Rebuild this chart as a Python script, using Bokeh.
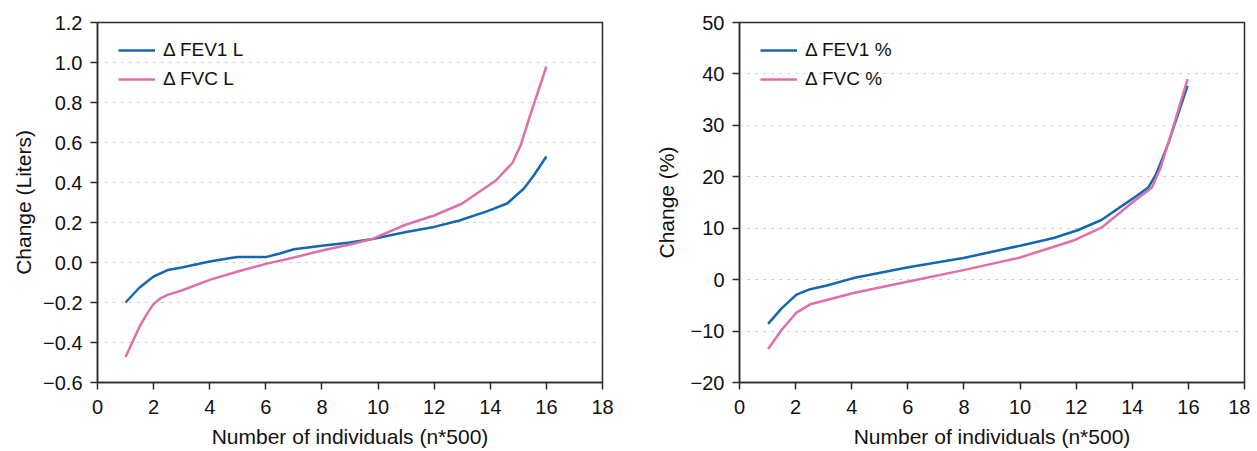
from bokeh.plotting import figure
from bokeh.layouts import row
from bokeh.models import FixedTicker, CustomJSTickFormatter, Range1d, Legend, LegendItem
from bokeh.embed import file_html
from bokeh.resources import INLINE

# ---- data ----
x_l_fev1 = [1, 1.5, 2, 2.5, 3, 4, 4.8, 5, 6, 6.5, 7, 8, 9, 9.8, 11, 12, 12.9, 13.9, 14.6, 15.2, 15.55, 16]
fev1_l   = [-0.20, -0.125, -0.07, -0.038, -0.025, 0.005, 0.024, 0.027, 0.027, 0.045, 0.066, 0.084, 0.10, 0.118, 0.152, 0.178, 0.21, 0.257, 0.295, 0.37, 0.435, 0.53]

x_l_fvc = [1, 1.5, 1.76, 2.0, 2.26, 2.5, 3, 4, 5, 6, 7, 8, 9, 9.8, 11, 12, 13, 14.2, 14.8, 15.1, 15.4, 16]
fvc_l   = [-0.473, -0.32, -0.257, -0.207, -0.178, -0.162, -0.14, -0.087, -0.045, -0.007, 0.025, 0.06, 0.09, 0.118, 0.19, 0.235, 0.295, 0.41, 0.50, 0.593, 0.727, 0.98]

x_r = [1.02, 1.5, 2.03, 2.52, 3.08, 4.06, 6.02, 7.98, 10.0, 11.2, 12.05, 12.9, 14.0, 14.57, 14.85, 15.27, 15.97]
fev1_pct = [-8.6, -5.6, -2.9, -1.85, -1.2, 0.3, 2.4, 4.2, 6.6, 8.1, 9.6, 11.6, 15.7, 17.9, 20.5, 26.3, 37.7]

x_r2 = [1.02, 1.5, 2.03, 2.52, 3.08, 4.06, 6.02, 7.98, 10.0, 11.9, 12.9, 14.0, 14.7, 14.99, 15.4, 15.97]
fvc_pct = [-13.5, -9.8, -6.4, -4.8, -4.0, -2.6, -0.35, 1.85, 4.3, 7.6, 10.1, 15.0, 17.9, 21.5, 28.6, 39.0]

x_ticks = [0, 2, 4, 6, 8, 10, 12, 14, 16, 18]
y_ticks_l = [-0.6, -0.4, -0.2, 0.0, 0.2, 0.4, 0.6, 0.8, 1.0, 1.2]
y_ticks_r = [-20, -10, 0, 10, 20, 30, 40, 50]

labels_l = ["\u0394 FEV1 L", "\u0394 FVC L"]
labels_r = ["\u0394 FEV1 %", "\u0394 FVC %"]
x_title = "Number of individuals (n*500)"
y_title_l = "Change (Liters)"
y_title_r = "Change (%)"

BLUE = "#1467b0"
PINK = "#df6fa9"
DARK = "#2b2b2b"
FONT = "Liberation Sans"


def make(xs1, ys1, xs2, ys2, yticks, ytitle, labels, decimals, width, left_border, title_standoff):
    p = figure(width=width, height=442, output_backend="svg", toolbar_location=None,
               x_range=Range1d(0, 18), y_range=Range1d(yticks[0], yticks[-1]),
               min_border_left=left_border, min_border_right=width - left_border - 505,
               min_border_top=22, min_border_bottom=5)
    p.frame_width = 505
    p.frame_height = 360
    p.background_fill_color = "white"
    p.border_fill_color = "white"
    p.outline_line_color = DARK
    p.outline_line_width = 1.5
    p.outline_line_alpha = 1

    l1 = p.line(xs1, ys1, line_color=BLUE, line_width=2.5)
    l2 = p.line(xs2, ys2, line_color=PINK, line_width=2.5)

    p.xaxis.ticker = FixedTicker(ticks=x_ticks)
    p.yaxis.ticker = FixedTicker(ticks=yticks)
    p.yaxis.formatter = CustomJSTickFormatter(code="""
        const d = %d;
        let s = Math.abs(tick).toFixed(d);
        return (tick < -1e-9 ? "\\u2212" : "") + s;
    """ % decimals)
    for ax in (p.xaxis[0], p.yaxis[0]):
        ax.axis_line_color = DARK
        ax.axis_line_width = 1.5
        ax.major_tick_line_color = DARK
        ax.major_tick_line_width = 1.5
        ax.major_tick_in = 0
        ax.major_tick_out = 7
        ax.minor_tick_line_color = None
        ax.major_label_text_font = FONT
        ax.major_label_text_font_size = "20px"
        ax.major_label_text_color = "#111111"
        ax.axis_label_text_font = FONT
        ax.axis_label_text_font_size = "21px"
        ax.axis_label_text_font_style = "normal"
        ax.axis_label_text_color = "#111111"
    p.xaxis.major_label_standoff = 10
    p.yaxis.major_label_standoff = 8
    p.xaxis.axis_label = x_title
    p.xaxis.axis_label_standoff = 8
    p.yaxis.axis_label = ytitle
    p.yaxis.axis_label_standoff = title_standoff

    p.xgrid.grid_line_color = None
    p.ygrid.ticker = FixedTicker(ticks=yticks[1:-1])
    p.ygrid.grid_line_color = "#bdbdbd"
    p.ygrid.grid_line_width = 1.2
    p.ygrid.grid_line_dash = "2 6"

    leg = Legend(items=[LegendItem(label=labels[0], renderers=[l1]),
                        LegendItem(label=labels[1], renderers=[l2])],
                 location=(21, 291))
    leg.border_line_color = None
    leg.background_fill_alpha = 0
    leg.margin = 0
    leg.padding = 0
    leg.glyph_width = 37
    leg.glyph_height = 24
    leg.label_height = 24
    leg.spacing = 5
    leg.label_standoff = 8
    leg.label_text_font = FONT
    leg.label_text_font_size = "19px"
    leg.label_text_color = "#111111"
    p.add_layout(leg)
    return p


p1 = make(x_l_fev1, fev1_l, x_l_fvc, fvc_l, y_ticks_l, y_title_l, labels_l, 1, 638, 97, 5)
p2 = make(x_r, fev1_pct, x_r2, fvc_pct, y_ticks_r, y_title_r, labels_r, 0, 612, 101, 10)

layout = row(p1, p2)
open("out.html", "w").write(file_html(layout, INLINE))
